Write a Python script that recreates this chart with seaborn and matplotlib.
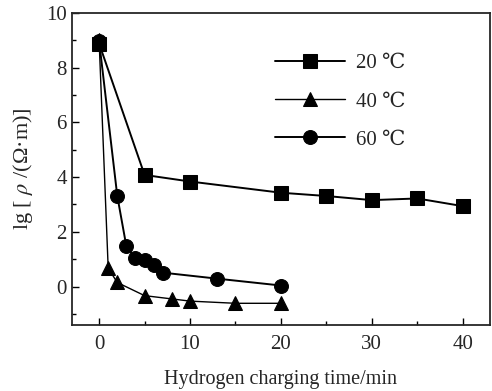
import matplotlib
matplotlib.use("Agg")
import matplotlib.pyplot as plt
import matplotlib.ticker as mtick
import pandas as pd
import seaborn as sns

# data
t_20 = [0, 5, 10, 20, 25, 30, 35, 40]
lg_20 = [8.88, 4.08, 3.84, 3.43, 3.31, 3.16, 3.22, 2.94]
t_40 = [0, 1, 2, 5, 8, 10, 15, 20]
lg_40 = [9.0, 0.67, 0.15, -0.33, -0.45, -0.53, -0.61, -0.61]
t_60 = [0, 2, 3, 4, 5, 6, 7, 13, 20]
lg_60 = [8.97, 3.31, 1.47, 1.04, 0.98, 0.80, 0.51, 0.29, 0.04]
labels = ["20 ℃", "40 ℃", "60 ℃"]

df = pd.concat([
    pd.DataFrame({"t": t_20, "lg": lg_20, "T": labels[0]}),
    pd.DataFrame({"t": t_40, "lg": lg_40, "T": labels[1]}),
    pd.DataFrame({"t": t_60, "lg": lg_60, "T": labels[2]}),
])

sns.set_style("ticks")
plt.rcParams['font.family'] = ['Liberation Serif', 'DejaVu Serif']
plt.rcParams['mathtext.fontset'] = 'stix'

fig = plt.figure(figsize=(4.92, 3.91), dpi=100)
ax = fig.add_axes([0.146, 0.169, 0.85, 0.798])

sns.lineplot(data=df, x="t", y="lg", hue="T", style="T",
             palette=["black"] * 3, markers={labels[0]: "s", labels[1]: "^", labels[2]: "o"},
             dashes=False, markersize=10, markeredgecolor="black", ax=ax)
for ln, lw in zip(ax.get_lines()[:3], [1.4, 1.0, 1.4]):
    ln.set_linewidth(lw)

ax.set_xlim(-3, 43)
ax.set_ylim(-1.4, 10)
ax.xaxis.set_major_locator(mtick.MultipleLocator(10))
ax.xaxis.set_minor_locator(mtick.MultipleLocator(5))
ax.yaxis.set_major_locator(mtick.MultipleLocator(2))
ax.yaxis.set_minor_locator(mtick.MultipleLocator(1))
ax.tick_params(which="both", direction="in", labelsize=15, width=1, color="black")
ax.tick_params(which="major", length=5)
ax.tick_params(which="minor", length=3)
ax.tick_params(axis="x", pad=7)
for s in ax.spines.values():
    s.set_linewidth(1.3)
    s.set_visible(True)

ax.set_xlabel("Hydrogen charging time/min", fontsize=14.5, labelpad=12)
ax.set_ylabel(r"lg [ $\rho$ /(Ω·m)]", fontsize=16, labelpad=8)

h, l = ax.get_legend_handles_labels()
for hh, lw in zip(h, [1.4, 1.0, 1.4]):
    hh.set_linewidth(lw)
ax.legend(h, l, loc="upper left", bbox_to_anchor=(0.44, 0.93), frameon=False,
          fontsize=15, handlelength=3.4, labelspacing=0.9, handletextpad=0.5)

fig.savefig("out.png", dpi=100)
